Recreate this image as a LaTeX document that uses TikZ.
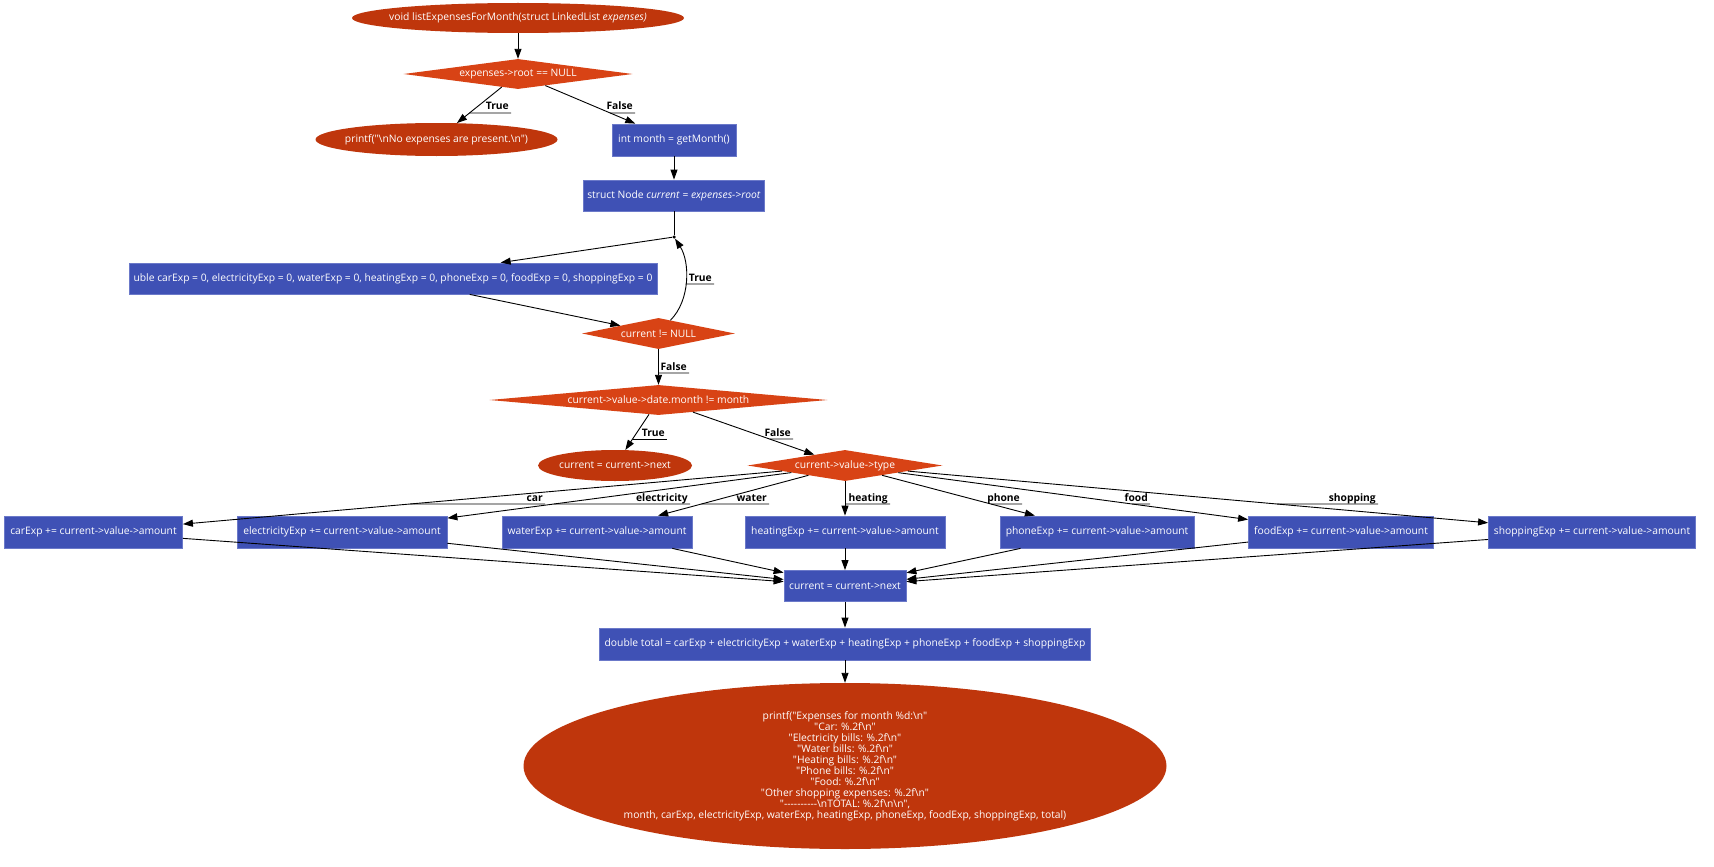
\documentclass[tikz,border=0pt]{standalone}
\usepackage{fontspec}
\setmainfont{Open Sans}[Ligatures=TeXOff]
\usetikzlibrary{shapes.geometric,arrows.meta,intersections}
\definecolor{ellc}{HTML}{BF360C}
\definecolor{diac}{HTML}{D84315}
\definecolor{boxc}{HTML}{3F51B5}
\definecolor{boxd}{HTML}{6B79C9}
\newcommand\bs{\textbackslash}
\newcommand\elab[5]{%
  \path[name path=hz] (0,#3) -- (1714,#3);
  \path[name intersections={of=#2 and hz, by=#1i}];
  \node[lbl, anchor=base east] (#1) at (#4-2,#3-3) {#5};
  \draw[uline] (#1i) -- (#4,#3);
}
\begin{document}
\begin{tikzpicture}[x=1pt,y=-1pt,
  every node/.style={font=\fontsize{10.3}{11}\selectfont, text=white, inner sep=0pt},
  ell/.style={ellipse, fill=ellc, inner xsep=-60pt, inner ysep=-4pt},
  dia/.style={diamond, fill=diac},
  blk/.style={rectangle, fill=boxc, draw=boxd, line width=0.8pt},
  arr/.style={draw=black, line width=0.9pt, -{Triangle[length=10pt,width=7pt]}},
  lbl/.style={font=\bfseries\fontsize{10.3}{11}\selectfont, text=black, inner sep=0pt},
  uline/.style={draw=black, line width=0.9pt}]
\useasboundingbox (0,0) rectangle (1714,867);
% nodes
\node[ell, minimum width=332, minimum height=30] (start) at (518,18) {void listExpensesForMonth(struct LinkedList \textit{expenses)}};
\node[dia, aspect=7.6, minimum width=229, minimum height=30] (d1) at (518,74) {expenses->root == NULL};
\node[ell, minimum width=242, minimum height=33] (e2) at (436.5,139.5) {printf("\bs nNo expenses are present.\bs n")};
\node[blk, minimum width=124, minimum height=32] (b4) at (674,140) {int month = getMonth()};
\node[blk, minimum width=181, minimum height=31] (b5) at (674,195.5) {struct Node \textit{current} = \textit{expenses->root}};
\node[circle, fill=black, minimum size=3.5] (loop) at (674,237) {};
\node[blk, minimum width=528, minimum height=31] (b7) at (393,278.5) {uble carExp = 0, electricityExp = 0, waterExp = 0, heatingExp = 0, phoneExp = 0, foodExp = 0, shoppingExp = 0};
\node[dia, aspect=5, minimum width=153, minimum height=31] (d8) at (658.5,333.5) {current != NULL};
\node[dia, aspect=12, minimum width=338, minimum height=30] (d9) at (658.5,400) {current->value->date.month != month};
\node[ell, minimum width=154, minimum height=31] (e11) at (615,465.5) {current = current->next};
\node[dia, aspect=6.3, minimum width=195, minimum height=31] (d12) at (845,465.5) {current->value->type};
\node[blk, minimum width=178, minimum height=32] (car) at (93.5,532) {carExp += current->value->amount};
\node[blk, minimum width=210, minimum height=32] (ele) at (342,532) {electricityExp += current->value->amount};
\node[blk, minimum width=190, minimum height=32] (wat) at (597,532) {waterExp += current->value->amount};
\node[blk, minimum width=200, minimum height=32] (hea) at (845,532) {heatingExp += current->value->amount};
\node[blk, minimum width=194, minimum height=32] (pho) at (1097,532) {phoneExp += current->value->amount};
\node[blk, minimum width=185, minimum height=32] (foo) at (1341,532) {foodExp += current->value->amount};
\node[blk, minimum width=207, minimum height=32] (sho) at (1592,532) {shoppingExp += current->value->amount};
\node[blk, minimum width=122, minimum height=31] (b13) at (845,586) {current = current->next};
\node[blk, minimum width=491, minimum height=32] (b14) at (845,644) {double total = carExp + electricityExp + waterExp + heatingExp + phoneExp + foodExp + shoppingExp};
\node[ell, align=center, minimum width=643, minimum height=166] (out) at (845,766) {printf("Expenses for month \%d:\bs n"\\
"Car: \%.2f\bs n"\\
"Electricity bills: \%.2f\bs n"\\
"Water bills: \%.2f\bs n"\\
"Heating bills: \%.2f\bs n"\\
"Phone bills: \%.2f\bs n"\\
"Food: \%.2f\bs n"\\
"Other shopping expenses: \%.2f\bs n"\\
"----------\bs nTOTAL: \%.2f\bs n\bs n",\\
month, carExp, electricityExp, waterExp, heatingExp, phoneExp, foodExp, shoppingExp, total)};
% edges
\draw[arr] (start) -- (d1);
\draw[arr, name path=pT1] (d1) -- (e2);
\draw[arr, name path=pF1] (d1) -- (b4);
\draw[arr] (b4) -- (b5);
\draw[line width=0.9pt] (b5) -- (loop);
\draw[arr] (loop) -- (b7);
\draw[arr] (b7) -- (d8);
\draw[arr, name path=pT2] (d8.48) .. controls +(20,-20) and +(16,25) .. (loop);
\draw[arr, name path=pF2] (d8) -- (d9);
\draw[arr, name path=pT3] (d9) -- (e11);
\draw[arr, name path=pF3] (d9) -- (d12);
\draw[arr, name path=pc1] (d12) -- (car);
\draw[arr, name path=pc2] (d12) -- (ele);
\draw[arr, name path=pc3] (d12) -- (wat);
\draw[arr, name path=pc4] (d12) -- (hea);
\draw[arr, name path=pc5] (d12) -- (pho);
\draw[arr, name path=pc6] (d12) -- (foo);
\draw[arr, name path=pc7] (d12) -- (sho);
\draw[arr] (car) -- (b13);
\draw[arr] (ele) -- (b13);
\draw[arr] (wat) -- (b13);
\draw[arr] (hea) -- (b13);
\draw[arr] (pho) -- (b13);
\draw[arr] (foo) -- (b13);
\draw[arr] (sho) -- (b13);
\draw[arr] (b13) -- (b14);
\draw[arr] (b14) -- (out);
% edge labels
\elab{lT1}{pT1}{113}{511}{True}
\elab{lF1}{pF1}{113}{635}{False}
\elab{lT2}{pT2}{284}{714}{True}
\elab{lF2}{pF2}{373}{689}{False}
\elab{lT3}{pT3}{439}{667}{True}
\elab{lF3}{pF3}{439}{793}{False}
\elab{lcar}{pc1}{504}{545}{car}
\elab{lele}{pc2}{504}{690}{electricity}
\elab{lwat}{pc3}{504}{769}{water}
\elab{lhea}{pc4}{504}{890}{heating}
\elab{lpho}{pc5}{504}{1022}{phone}
\elab{lfoo}{pc6}{504}{1150}{food}
\elab{lsho}{pc7}{504}{1378}{shopping}
\end{tikzpicture}
\end{document}
